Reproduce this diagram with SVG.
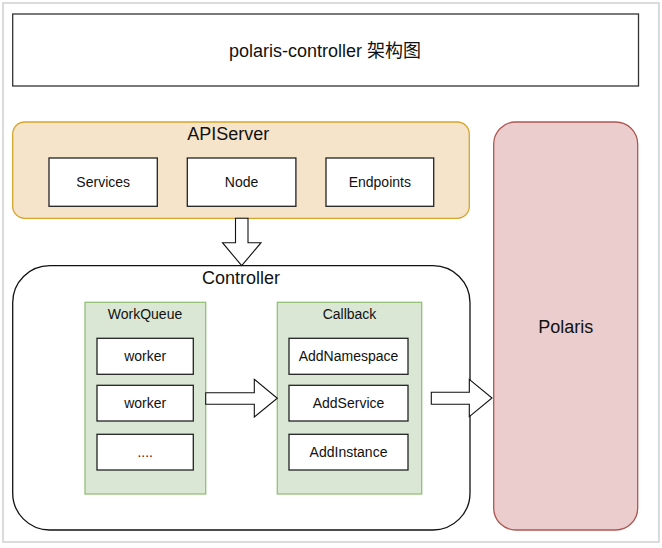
<svg xmlns="http://www.w3.org/2000/svg" width="662" height="548" viewBox="0 0 662 548">
<style>
text{font-family:"Liberation Sans",Arial,"Noto Sans CJK SC",sans-serif;fill:#111;text-anchor:middle}
.big{font-size:18px}
.sm{font-size:14px}
.box{fill:#fff;stroke:#222;stroke-width:1.3}
.green{fill:#dbe7d5;stroke:#93bf77;stroke-width:1.3}
.arrow{fill:#fff;stroke:#111;stroke-width:1.1}
</style>
<rect x="0" y="0" width="662" height="548" fill="#fff"/>
<rect x="3" y="3" width="656" height="539" fill="none" stroke="#cfcfcf" stroke-width="1.5"/>
<g id="title">
<rect x="12.7" y="14" width="625.8" height="72" fill="#fff" stroke="#333" stroke-width="1.3"/>
<text class="big" x="325" y="56.5">polaris-controller 架构图</text>
</g>
<g id="apiserver">
<rect x="12.7" y="122" width="456.6" height="96.3" rx="12" fill="#f6e4ca" stroke="#d5a52b" stroke-width="1.3"/>
<text class="big" x="228.3" y="139.5">APIServer</text>
</g>
<g id="services">
<rect class="box" x="49" y="158" width="108.3" height="48.3"/>
<text class="sm" x="103.2" y="187">Services</text>
</g>
<g id="node">
<rect class="box" x="187.3" y="158" width="108.6" height="48.3"/>
<text class="sm" x="241.6" y="187">Node</text>
</g>
<g id="endpoints">
<rect class="box" x="326" y="158" width="107.7" height="48.3"/>
<text class="sm" x="379.8" y="187">Endpoints</text>
</g>
<g id="controller">
<rect x="12.7" y="265.7" width="457.3" height="264.3" rx="37" fill="#fff" stroke="#111" stroke-width="1.3"/>
<text class="big" x="241" y="283.5">Controller</text>
</g>
<g id="workqueue">
<rect class="green" x="85" y="302.3" width="120.7" height="191.7"/>
<text class="sm" x="145" y="319.3">WorkQueue</text>
</g>
<g id="worker1">
<rect class="box" x="97" y="338.3" width="96.3" height="36"/>
<text class="sm" x="145.2" y="361.3">worker</text>
</g>
<g id="worker2">
<rect class="box" x="97" y="385.3" width="96.3" height="35.7"/>
<text class="sm" x="145.2" y="408.2">worker</text>
</g>
<g id="more">
<rect class="box" x="97" y="434.3" width="96.3" height="35.7"/>
<text class="sm" x="145.2" y="457.2" style="fill:#8b0000">....</text>
</g>
<g id="callback">
<rect class="green" x="277.3" y="302.3" width="144.4" height="191.7"/>
<text class="sm" x="349.5" y="319.3">Callback</text>
</g>
<g id="addnamespace">
<rect class="box" x="289" y="338.3" width="119" height="36"/>
<text class="sm" x="348.5" y="361.3">AddNamespace</text>
</g>
<g id="addservice">
<rect class="box" x="289" y="385.3" width="119" height="35.7"/>
<text class="sm" x="348.5" y="408.2">AddService</text>
</g>
<g id="addinstance">
<rect class="box" x="289" y="434.3" width="119" height="35.7"/>
<text class="sm" x="348.5" y="457.2">AddInstance</text>
</g>
<g id="polaris">
<rect x="493.7" y="122" width="144" height="408" rx="22" fill="#eacdcc" stroke="#ad5753" stroke-width="1.3"/>
<text class="big" x="565.7" y="332.5">Polaris</text>
</g>
<g id="connectors">
<polygon class="arrow" points="235.5,218.3 248,218.3 248,242.7 261,242.7 241.7,265.7 222.5,242.7 235.5,242.7"/>
<polygon class="arrow" points="205.7,392.7 254.3,392.7 254.3,379.3 277.3,398.3 254.3,417 254.3,404.3 205.7,404.3"/>
<polygon class="arrow" points="431.3,392.3 469.3,392.3 469.3,379.3 492,398 469.3,416.6 469.3,404.3 431.3,404.3"/>
</g>
</svg>
